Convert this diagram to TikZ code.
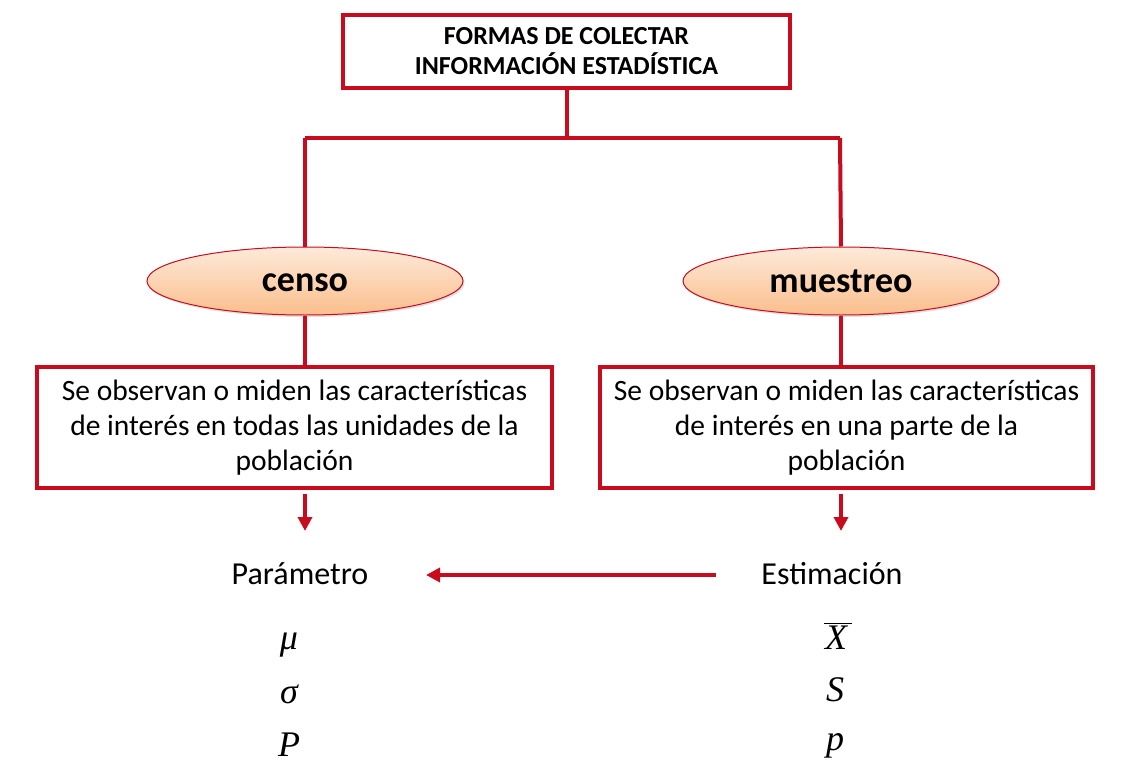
\documentclass[tikz,border=0pt]{standalone}
\usepackage{fontspec}
\setmainfont{Carlito}
\newfontfamily\mathserif[UprightFont={* Italic}]{Liberation Serif}
\usetikzlibrary{shapes.geometric,arrows.meta,shadows}
\definecolor{cred}{RGB}{200,12,30}
\definecolor{peachtop}{RGB}{253,234,218}
\definecolor{peachbot}{RGB}{251,190,140}
\begin{document}
\begin{tikzpicture}[x=1pt,y=-1pt,
  redbox/.style={draw=cred,line width=4pt,fill=white,inner sep=0pt},
  oval/.style={ellipse,draw=cred,line width=1pt,top color=peachtop,bottom color=peachbot,
     minimum width=316pt,minimum height=68pt,font=\fontsize{36}{40}\selectfont\bfseries,
     text depth=0pt,
     drop shadow={shadow xshift=1.5pt,shadow yshift=-2pt,opacity=0.25}},
  conn/.style={draw=cred,line width=4pt},
  arr/.style={draw=cred,line width=4pt,-{Triangle[length=14pt,width=14pt]}},
  lbl/.style={font=\fontsize{32}{36}\selectfont},
  sym/.style={font=\fontsize{36}{40}\selectfont\mathserif},
  body/.style={align=center,font=\fontsize{29.5}{35}\selectfont}]
\useasboundingbox (0,0) rectangle (1130,784);
% top box
\node[redbox,minimum width=447pt,minimum height=73pt,align=center,
  font=\fontsize{26}{30}\selectfont\bfseries] (top) at (566.5,51.5)
  {FORMAS DE COLECTAR\\INFORMACIÓN ESTADÍSTICA};
\coordinate (split) at (566.5,138);
\coordinate (jl) at (305,138);
\coordinate (jr) at (840,138);
% ellipses
\node[oval] (censo) at (305,281) {\raisebox{-3pt}{censo}};
\node[oval] (muestreo) at (841,281) {\raisebox{-1pt}{muestreo}};
% boxes
\node[redbox,minimum width=515pt,minimum height=121pt,body] (bl) at (294.5,427.5)
  {Se observan o miden las características\\de interés en todas las unidades de la\\población};
\node[redbox,minimum width=493pt,minimum height=121pt,body] (br) at (846.5,427.5)
  {Se observan o miden las características\\de interés en una parte de la\\población};
% connectors
\draw[conn] (top.south) -- (split);
\draw[conn] (jl) -- (jr);
\draw[conn] (jl) -- (censo.north);
\draw[conn] (jr) -- (muestreo.north);
\draw[conn] (censo.south) -- (bl.north -| censo.south);
\draw[conn] (muestreo.south) -- (br.north -| muestreo.south);
% labels
\node[lbl] (par) at (300,574) {Parámetro};
\node[lbl] (est) at (832,574) {Estimación};
\coordinate (al) at (305,494);
\coordinate (ar) at (841,494);
\draw[arr] (al) -- (305,531);
\draw[arr] (ar) -- (841,531);
\coordinate (hs) at (716,575);
\coordinate (he) at (426,575);
\draw[arr] (hs) -- (he);
% symbols
\node[sym] (mu) at (289,645) {μ};
\node[sym] (sg) at (289,694) {σ};
\node[sym] (P) at (289,745) {P};
\node[sym] (X) at (836,638) {X};
\draw[line width=1.4pt] ([yshift=-1pt]X.north west) ++(3pt,0) -- ++(28pt,0);
\node[sym] (S) at (835,690) {S};
\node[sym] (p) at (835,746) {p};
\end{tikzpicture}
\end{document}
